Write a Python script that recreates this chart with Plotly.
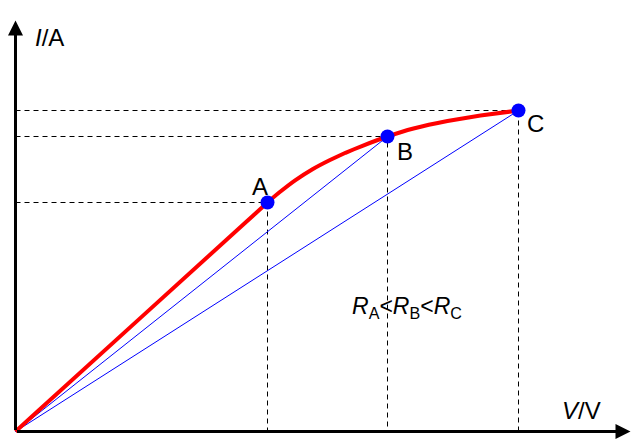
import plotly.graph_objects as go

# 工作点 (示意图坐标, 无刻度)
point_names = ['A', 'B', 'C']
point_v = [252, 372, 503]
point_i = [229, 295, 321]

# I-V 曲线 (红色)
curve_v = [0, 20, 230, 252, 264, 280, 297, 314, 330, 347, 372, 398, 432, 465, 503]
curve_i = [0, 18.2, 209, 229, 239.2, 251.4, 262.3, 271.3, 278.7, 285.7, 295, 303, 310.5, 316, 321]

axis_v_max = 615
axis_i_max = 411

fig = go.Figure()

# 虚线
for v, i in zip(point_v, point_i):
    fig.add_trace(go.Scatter(x=[0, v, v], y=[i, i, 0], mode='lines',
                             line=dict(color='black', width=1, dash='5px,4px')))

# 原点连线
for v, i in zip(point_v, point_i):
    fig.add_trace(go.Scatter(x=[0, v], y=[0, i], mode='lines',
                             line=dict(color='#0000ff', width=1)))

fig.add_trace(go.Scatter(x=curve_v, y=curve_i, mode='lines',
                         line=dict(color='#ff0000', width=4, shape='spline', smoothing=0.3)))

fig.add_trace(go.Scatter(x=point_v, y=point_i, mode='markers',
                         marker=dict(color='#0000ff', size=14)))

# 坐标轴箭头
fig.add_annotation(x=axis_v_max, y=0, ax=0, ay=0, xref='x', yref='y',
                   axref='x', ayref='y', showarrow=True, arrowhead=2,
                   arrowwidth=3, arrowsize=1, arrowcolor='black', text='')
fig.add_annotation(x=0, y=axis_i_max, ax=0, ay=0, xref='x', yref='y',
                   axref='x', ayref='y', showarrow=True, arrowhead=2,
                   arrowwidth=3, arrowsize=1, arrowcolor='black', text='')

font = dict(family='Liberation Sans, Arial, sans-serif', color='black')
for name, x, y in zip(point_names, [244, 389, 520], [245, 280, 308]):
    fig.add_annotation(x=x, y=y, text=name, showarrow=False, font=dict(size=24, **font))
fig.add_annotation(x=17, y=394, text='<i>I</i>/A', showarrow=False, xanchor='left',
                   font=dict(size=24, **font))
fig.add_annotation(x=544, y=21, text='<i>V</i>/V', showarrow=False, xanchor='left',
                   font=dict(size=24, **font))
fig.add_annotation(x=334, y=124, text='<i>R</i><sub>A</sub>&lt;<i>R</i><sub>B</sub>&lt;<i>R</i><sub>C</sub>',
                   showarrow=False, xanchor='left', font=dict(size=23, **font))

fig.update_xaxes(range=[-15.5, 628.5], visible=False, fixedrange=True)
fig.update_yaxes(range=[-16.5, 431.5], visible=False, fixedrange=True)
fig.update_layout(width=644, height=448, margin=dict(l=0, r=0, t=0, b=0),
                  paper_bgcolor='white', plot_bgcolor='white', showlegend=False)

fig.write_html("out.html", post_script="document.body.style.margin='0';",
               config={'displayModeBar': False})
